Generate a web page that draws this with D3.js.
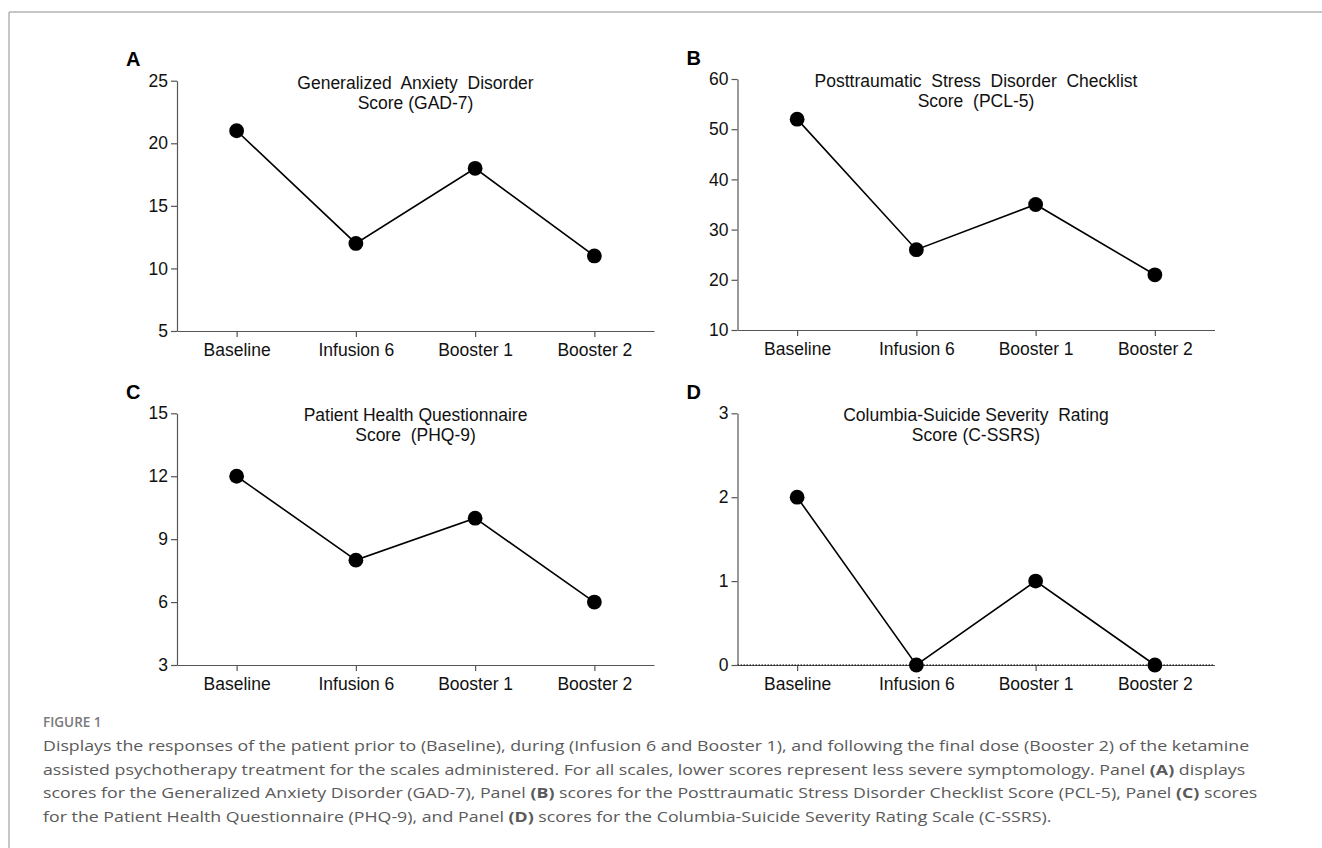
<!DOCTYPE html>
<html>
<head>
<meta charset="utf-8">
<script src="https://cdn.jsdelivr.net/npm/d3@7"></script>
<style>
  body { margin: 0; background: #fff; }
  svg text { white-space: pre; }
</style>
</head>
<body>
<div id="fig"></div>
<script>
// data
var timepoints = ["Baseline", "Infusion 6", "Booster 1", "Booster 2"];
var gad7 = [21, 12, 18, 11];
var pcl5 = [52, 26, 35, 21];
var phq9 = [12, 8, 10, 6];
var cssrs = [2, 0, 1, 0];

var gadTicks = [5, 10, 15, 20, 25];
var pclTicks = [10, 20, 30, 40, 50, 60];
var phqTicks = [3, 6, 9, 12, 15];
var cssrsTicks = [0, 1, 2, 3];

var panelLetters = ["A", "B", "C", "D"];
var titles = [
  ["Generalized  Anxiety  Disorder", "Score (GAD-7)"],
  ["Posttraumatic  Stress  Disorder  Checklist", "Score  (PCL-5)"],
  ["Patient Health Questionnaire", "Score  (PHQ-9)"],
  ["Columbia-Suicide Severity  Rating", "Score (C-SSRS)"]
];

var captionLines = [
  [["Displays the responses of the patient prior to (Baseline), during (Infusion 6 and Booster 1), and following the final dose (Booster 2) of the ketamine", 0]],
  [["assisted psychotherapy treatment for the scales administered. For all scales, lower scores represent less severe symptomology. Panel ", 0], ["(A)", 1], [" displays", 0]],
  [["scores for the Generalized Anxiety Disorder (GAD-7), Panel ", 0], ["(B)", 1], [" scores for the Posttraumatic Stress Disorder Checklist Score (PCL-5), Panel ", 0], ["(C)", 1], [" scores", 0]],
  [["for the Patient Health Questionnaire (PHQ-9), and Panel ", 0], ["(D)", 1], [" scores for the Columbia-Suicide Severity Rating Scale (C-SSRS).", 0]]
];

var width = 1322, height = 848;
var font = "'Liberation Sans', Arial, sans-serif";

var svg = d3.select("#fig").append("svg")
  .attr("width", width)
  .attr("height", height);

// frame lines (top + left)
svg.append("line").attr("x1", 9).attr("x2", width).attr("y1", 12).attr("y2", 12)
  .attr("stroke", "#b3b3b3").attr("stroke-width", 1.5);
svg.append("line").attr("x1", 9).attr("x2", 9).attr("y1", 12).attr("y2", height)
  .attr("stroke", "#b3b3b3").attr("stroke-width", 1.5);

var panels = [
  {vals: gad7, ticks: gadTicks, left: 177, top: 80.7, bottom: 331},
  {vals: pcl5, ticks: pclTicks, left: 737.5, top: 79, bottom: 330},
  {vals: phq9, ticks: phqTicks, left: 177, top: 413.3, bottom: 665},
  {vals: cssrs, ticks: cssrsTicks, left: 737.5, top: 413.3, bottom: 665}
];
var plotW = 477;

panels.forEach(function(p, i) {
  var g = svg.append("g");
  var x = d3.scalePoint()
    .domain(timepoints)
    .range([p.left, p.left + plotW])
    .padding(0.5);
  var y = d3.scaleLinear()
    .domain(d3.extent(p.ticks))
    .range([p.bottom, p.top]);

  // y axis
  var ya = g.append("g")
    .attr("transform", "translate(" + p.left + ",0)")
    .call(d3.axisLeft(y).tickValues(p.ticks).tickFormat(d3.format("d"))
      .tickSize(6).tickSizeOuter(0).tickPadding(3));
  // x axis
  var xa = g.append("g")
    .attr("transform", "translate(0," + p.bottom + ")")
    .call(d3.axisBottom(x).tickSize(6).tickSizeOuter(0).tickPadding(7));

  [ya, xa].forEach(function(a) {
    a.select(".domain").attr("stroke", "#555").attr("stroke-width", 1.2);
    a.selectAll(".tick line").attr("stroke", "#555").attr("stroke-width", 1.2);
    a.selectAll(".tick text")
      .attr("fill", "#111")
      .style("font-family", font)
      .style("font-size", "17.5px");
  });

  // dotted zero line on the C-SSRS panel
  if (p.ticks[0] === 0) {
    g.append("line")
      .attr("x1", p.left).attr("x2", p.left + plotW)
      .attr("y1", y(0)).attr("y2", y(0))
      .attr("stroke", "#000").attr("stroke-width", 1.2)
      .attr("stroke-dasharray", "1.5,1.5");
  }

  // line + dots
  var line = d3.line()
    .x(function(d, j) { return x(timepoints[j]); })
    .y(function(d) { return y(d); });
  g.append("path")
    .datum(p.vals)
    .attr("d", line)
    .attr("fill", "none")
    .attr("stroke", "#000")
    .attr("stroke-width", 1.6);
  g.selectAll("circle")
    .data(p.vals)
    .join("circle")
    .attr("cx", function(d, j) { return x(timepoints[j]); })
    .attr("cy", function(d) { return y(d); })
    .attr("r", 7.4)
    .attr("fill", "#000");

  // title
  var cx = p.left + plotW / 2;
  titles[i].forEach(function(t, k) {
    g.append("text")
      .attr("x", cx)
      .attr("y", p.top + 8 + k * 20)
      .attr("text-anchor", "middle")
      .attr("fill", "#111")
      .style("font-family", font)
      .style("font-size", "17.5px")
      .text(t);
  });

  // panel letter
  g.append("text")
    .attr("x", p.left - 51)
    .attr("y", p.top - 14.5)
    .attr("fill", "#000")
    .style("font-family", font)
    .style("font-size", "20px")
    .style("font-weight", "bold")
    .text(panelLetters[i]);
});

// caption
svg.append("text")
  .attr("x", 43).attr("y", 727)
  .attr("fill", "#7a7a7a")
  .style("font-family", "'Open Sans', sans-serif")
  .style("font-size", "13.5px")
  .style("font-weight", 600)
  .text("FIGURE 1");

var capLines = captionLines.map(function(parts, i) {
  var t = svg.append("text")
    .attr("x", 0).attr("y", 0)
    .attr("fill", "#5a5a5a")
    .style("font-family", "'Open Sans', sans-serif")
    .style("font-size", "15px");
  parts.forEach(function(s) {
    t.append("tspan").text(s[0]).style("font-weight", s[1] ? "bold" : "normal");
  });
  return t;
});
// squeeze caption so the first line ends where the original does
var scaleX = 1207 / capLines[0].node().getComputedTextLength();
capLines.forEach(function(t, i) {
  t.attr("transform", "translate(43," + (751 + i * 23.5) + ") scale(" + scaleX + ",1)");
});
</script>
</body>
</html>
